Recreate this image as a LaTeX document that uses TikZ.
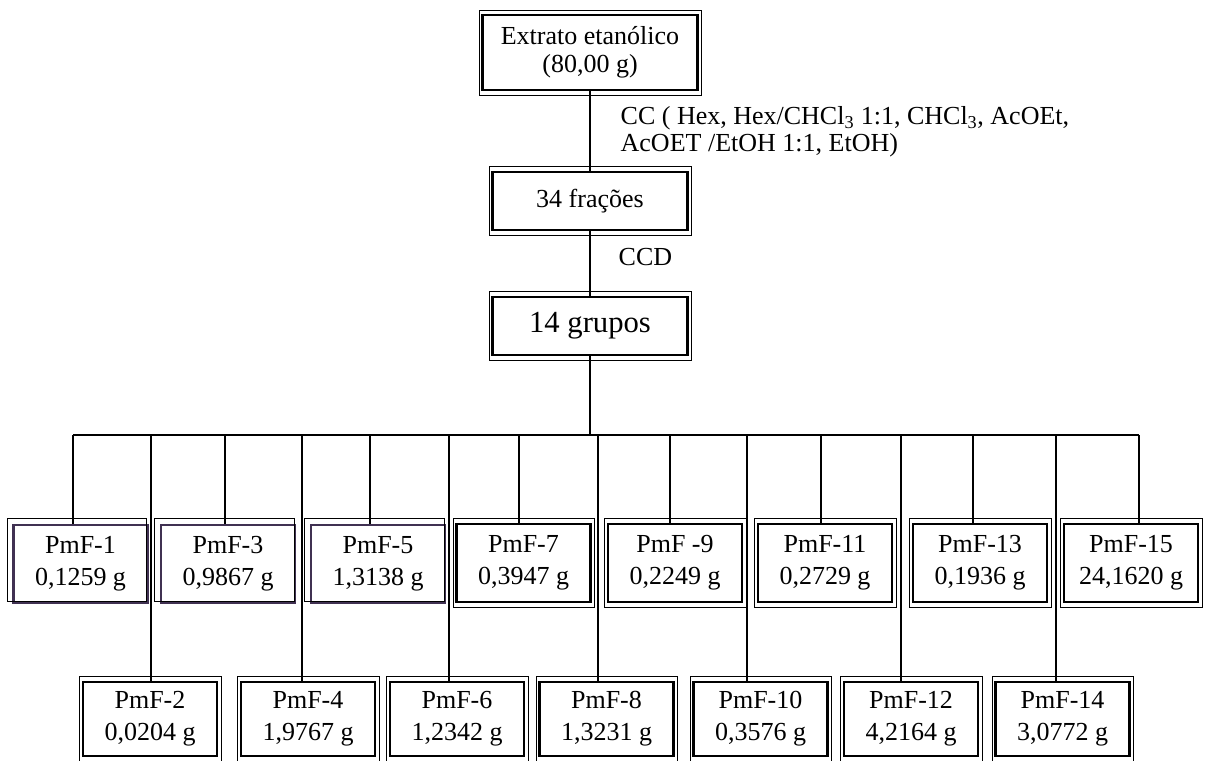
\documentclass[tikz,border=0pt]{standalone}
\usepackage{fontspec}
\setmainfont{Liberation Serif}
\definecolor{roxo}{HTML}{403152}
\tikzset{
  fracbox/.style={draw, line width=1.8pt, inner sep=0pt, align=center,
    minimum width=100.5pt, font=\fontsize{19.5pt}{24pt}\selectfont},
  roxobox/.style={fracbox, draw=roxo},
  rotulo/.style={anchor=west, inner sep=0pt, align=left,
    font=\fontsize{19.5pt}{20.5pt}\selectfont},
}
\begin{document}
\begin{tikzpicture}[x=0.75pt, y=-0.75pt, line width=1pt]
\useasboundingbox (0,0) rectangle (1206,760);

\node[fracbox, minimum width=161pt, minimum height=56pt,
  font=\fontsize{19.5pt}{21pt}\selectfont] (ext) at (590,52.5) {Extrato etanólico\\(80,00 g)};
\node[fracbox, minimum width=146pt, minimum height=43.5pt] (fr) at (590,201) {34 frações};
\node[fracbox, minimum width=146pt, minimum height=43.5pt,
  font=\fontsize{23pt}{27pt}\selectfont] (gr) at (590,326) {14 grupos};

\node[rotulo] (cc) at (620,132) {CC ( Hex, Hex/CHCl\textsubscript{3} 1:1, CHCl\textsubscript{3}, AcOEt,\\AcOET /EtOH 1:1, EtOH)};
\node[rotulo] (ccd) at (618,257) {CCD};

\draw (ext) -- (fr);
\draw (fr) -- (gr);

% top row
\foreach \i/\cx/\lx/\t/\m in {1/80.5/73/PmF-1/{0,1259 g}, 3/228/225/PmF-3/{0,9867 g},
    5/378/370/PmF-5/{1,3138 g}}{
  \node[roxobox, minimum height=58.5pt] (p\i) at (\cx,564) {\t\\\m};
  \coordinate (t\i) at (\lx,435);
}
\foreach \i/\cx/\lx/\t/\m in {7/523.5/519/PmF-7/{0,3947 g}, 9/675/670/PmF -9/{0,2249 g},
    11/825/821/PmF-11/{0,2729 g}, 13/980/973/PmF-13/{0,1936 g},
    15/1131/1139/PmF-15/{24,1620 g}}{
  \node[fracbox, minimum height=58.5pt] (p\i) at (\cx,563) {\t\\\m};
  \coordinate (t\i) at (\lx,435);
}

% bottom row
\foreach \i/\cx/\lx/\m in {2/150/151/{0,0204 g}, 4/308/302/{1,9767 g},
    6/457/449/{1,2342 g}, 8/606.5/598/{1,3231 g}, 10/760.5/747/{0,3576 g},
    12/911/901/{4,2164 g}, 14/1062.5/1056/{3,0772 g}}{
  \node[fracbox, minimum height=55.5pt] (p\i) at (\cx,719) {PmF-\i\\\m};
  \coordinate (t\i) at (\lx,435);
}

% thin outer frames
\foreach \n in {ext,fr,gr,p2,p4,p6,p7,p8,p9,p10,p11,p12,p13,p14,p15}
  \draw[line width=0.7pt] ([shift={(-2,-4)}]\n.north west) rectangle ([shift={(3,4)}]\n.south east);
\foreach \n in {p1,p3,p5}
  \draw[line width=1pt] ([shift={(-5,-5)}]\n.north west) rectangle ([shift={(-2,-3)}]\n.south east);

\coordinate (bus) at (gr.south |- t1);
\draw (gr) -- (bus);
\draw (t1) -- (t15);
\foreach \i in {1,...,15}
  \draw (t\i) -- (t\i |- p\i.north);
\end{tikzpicture}
\end{document}
